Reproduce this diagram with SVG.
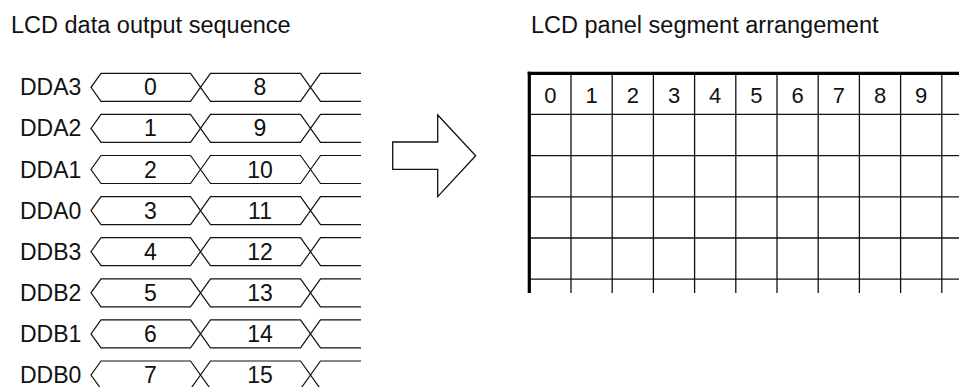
<svg xmlns="http://www.w3.org/2000/svg" width="959" height="387" viewBox="0 0 959 387">
<style>
text{font-family:"Liberation Sans",Arial,sans-serif;fill:#111}
.t{font-size:23.5px}
.lbl{font-size:23px}
.d{font-size:23px;text-anchor:middle}
.c{font-size:22px;text-anchor:middle}
.sig{fill:none;stroke:#111;stroke-width:1.2;stroke-linejoin:miter}
.g{stroke:#111;stroke-width:1.3}
.thick{stroke:#000;stroke-width:3.2}
.arrow{fill:#fff;stroke:#111;stroke-width:1.3}
</style>
<rect width="959" height="387" fill="#fff"/>
<g id="title-left"><text class="t" x="11" y="32.5">LCD data output sequence</text></g>
<g id="title-right"><text class="t" x="531" y="32.5">LCD panel segment arrangement</text></g>
<defs>
<path id="sigshape" d="M361,0 H320.5 L300.5,28 H210.5 L190.5,0 H101 L91,14 L101,28 H190.5 L210.5,0 H300.5 L320.5,28 H361"/>
</defs>
<g id="row-DDA3" transform="translate(0,73.3)"><use href="#sigshape" class="sig"/><text class="lbl" x="20" y="22">DDA3</text><text class="d" x="150.5" y="22">0</text><text class="d" x="260" y="22">8</text></g>
<g id="row-DDA2" transform="translate(0,114.4)"><use href="#sigshape" class="sig"/><text class="lbl" x="20" y="22">DDA2</text><text class="d" x="150.5" y="22">1</text><text class="d" x="260" y="22">9</text></g>
<g id="row-DDA1" transform="translate(0,155.5)"><use href="#sigshape" class="sig"/><text class="lbl" x="20" y="22">DDA1</text><text class="d" x="150.5" y="22">2</text><text class="d" x="260" y="22">10</text></g>
<g id="row-DDA0" transform="translate(0,196.6)"><use href="#sigshape" class="sig"/><text class="lbl" x="20" y="22">DDA0</text><text class="d" x="150.5" y="22">3</text><text class="d" x="260" y="22">11</text></g>
<g id="row-DDB3" transform="translate(0,237.7)"><use href="#sigshape" class="sig"/><text class="lbl" x="20" y="22">DDB3</text><text class="d" x="150.5" y="22">4</text><text class="d" x="260" y="22">12</text></g>
<g id="row-DDB2" transform="translate(0,278.8)"><use href="#sigshape" class="sig"/><text class="lbl" x="20" y="22">DDB2</text><text class="d" x="150.5" y="22">5</text><text class="d" x="260" y="22">13</text></g>
<g id="row-DDB1" transform="translate(0,319.9)"><use href="#sigshape" class="sig"/><text class="lbl" x="20" y="22">DDB1</text><text class="d" x="150.5" y="22">6</text><text class="d" x="260" y="22">14</text></g>
<g id="row-DDB0" transform="translate(0,361)"><use href="#sigshape" class="sig"/><text class="lbl" x="20" y="22">DDB0</text><text class="d" x="150.5" y="22">7</text><text class="d" x="260" y="22">15</text></g>
<g id="connectors">
<path class="arrow" d="M392.7,142 H437.7 V115 L475.7,155.7 L437.7,196.7 V169.3 H392.7 Z"/>
</g>
<g id="panel-grid">
<g class="g">
<line x1="571" y1="73" x2="571" y2="293"/>
<line x1="612.2" y1="73" x2="612.2" y2="293"/>
<line x1="653.4" y1="73" x2="653.4" y2="293"/>
<line x1="694.6" y1="73" x2="694.6" y2="293"/>
<line x1="735.8" y1="73" x2="735.8" y2="293"/>
<line x1="777" y1="73" x2="777" y2="293"/>
<line x1="818.2" y1="73" x2="818.2" y2="293"/>
<line x1="859.4" y1="73" x2="859.4" y2="293"/>
<line x1="900.6" y1="73" x2="900.6" y2="293"/>
<line x1="941.8" y1="73" x2="941.8" y2="293"/>
<line x1="530" y1="114.4" x2="959" y2="114.4"/>
<line x1="530" y1="155.6" x2="959" y2="155.6"/>
<line x1="530" y1="196.8" x2="959" y2="196.8"/>
<line x1="530" y1="238" x2="959" y2="238"/>
<line x1="530" y1="279.2" x2="959" y2="279.2"/>
</g>
<line class="thick" x1="527.7" y1="73.3" x2="959" y2="73.3"/>
<line class="thick" x1="529.3" y1="71.7" x2="529.3" y2="293"/>
<text class="c" x="550.4" y="102.5">0</text>
<text class="c" x="591.6" y="102.5">1</text>
<text class="c" x="632.8" y="102.5">2</text>
<text class="c" x="674" y="102.5">3</text>
<text class="c" x="715.2" y="102.5">4</text>
<text class="c" x="756.4" y="102.5">5</text>
<text class="c" x="797.6" y="102.5">6</text>
<text class="c" x="838.8" y="102.5">7</text>
<text class="c" x="880" y="102.5">8</text>
<text class="c" x="921.2" y="102.5">9</text>
</g>
</svg>
